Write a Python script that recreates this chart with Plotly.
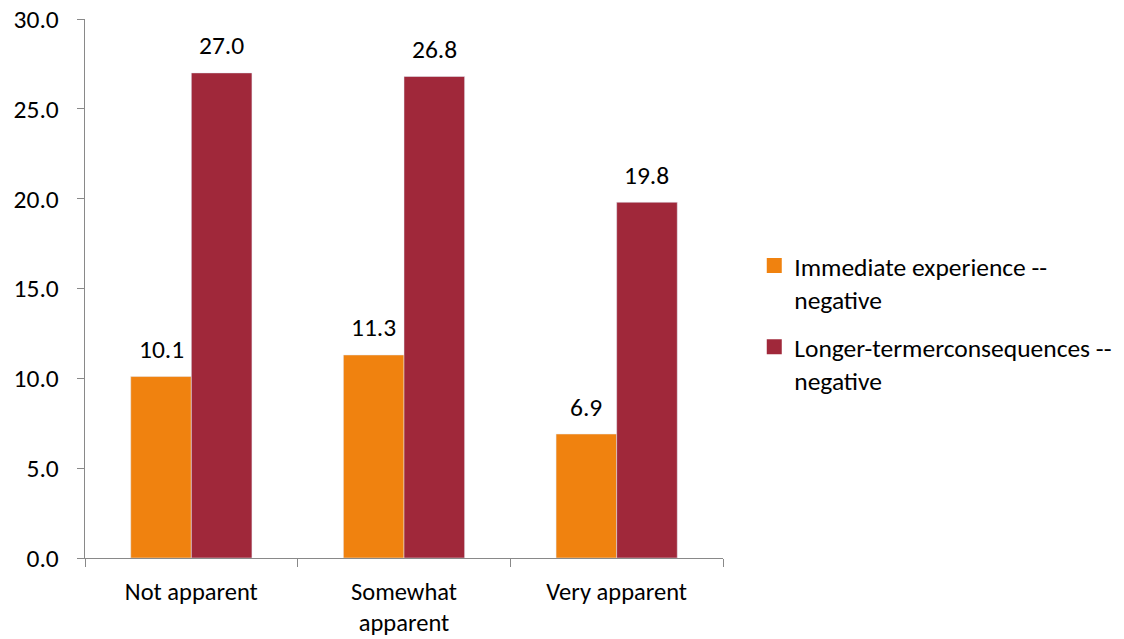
import plotly.graph_objects as go

categories = ["Not apparent", "Somewhat<br>apparent", "Very apparent"]
immediate = [10.1, 11.3, 6.9]
longer = [27.0, 26.8, 19.8]
series_names = ["Immediate experience --<br>negative", "Longer-termerconsequences --<br>negative"]
colors = ["#F0820F", "#A0283A"]

FONT = "Carlito, Calibri, sans-serif"
FS = 25.5
BAR_HALF = 30.3  # px offset of each bar in a group

fig = go.Figure()
for i, (name, vals, col) in enumerate(zip(series_names, [immediate, longer], colors)):
    fig.add_trace(go.Bar(
        x=categories, y=vals, name=name, marker_color=col, showlegend=False,
    ))
    shift = -BAR_HALF if i == 0 else BAR_HALF
    for c, v in zip(categories, vals):
        fig.add_annotation(x=c, y=v, text=f"{v:.1f}", showarrow=False,
                           xshift=shift, yshift=27, yanchor="middle",
                           font=dict(family=FONT, size=FS, color="#000000"))
# legend entries with square swatches
for i, (name, col) in enumerate(zip(series_names, colors)):
    fig.add_trace(go.Scatter(
        x=[None], y=[None], mode="markers", name=name, legendgroup=f"g{i}",
        marker=dict(symbol="square", size=15, color=col),
    ))

fig.update_layout(
    width=1124, height=639,
    margin=dict(l=85, r=401, t=19, b=81, autoexpand=False),
    paper_bgcolor="white", plot_bgcolor="white",
    barmode="group", bargap=0.43, bargroupgap=0,
    font=dict(family=FONT, size=FS, color="#000000"),
    showlegend=True,
    legend=dict(x=1.049, y=0.436, yanchor="middle", xanchor="left",
                font=dict(size=FS), tracegroupgap=12, itemwidth=30,
                valign="top"),
)
fig.update_xaxes(
    showline=True, linecolor="#898989", linewidth=1.2,
    ticks="outside", tickson="boundaries", ticklen=8, tickcolor="#898989",
    showgrid=False, tickfont=dict(size=24.5), automargin=False,
    ticklabelstandoff=11,
)
fig.update_yaxes(
    range=[0, 30], dtick=5, tickformat=".1f",
    showline=True, linecolor="#898989", linewidth=1.2,
    ticks="outside", ticklen=7, tickcolor="#898989",
    showgrid=False, zeroline=False, tickfont=dict(size=FS), automargin=False,
    ticklabelstandoff=13, ticklabeloverflow="allow",
)
fig.write_html("out.html", config={"displayModeBar": False},
               post_script="document.body.style.margin='0';")
